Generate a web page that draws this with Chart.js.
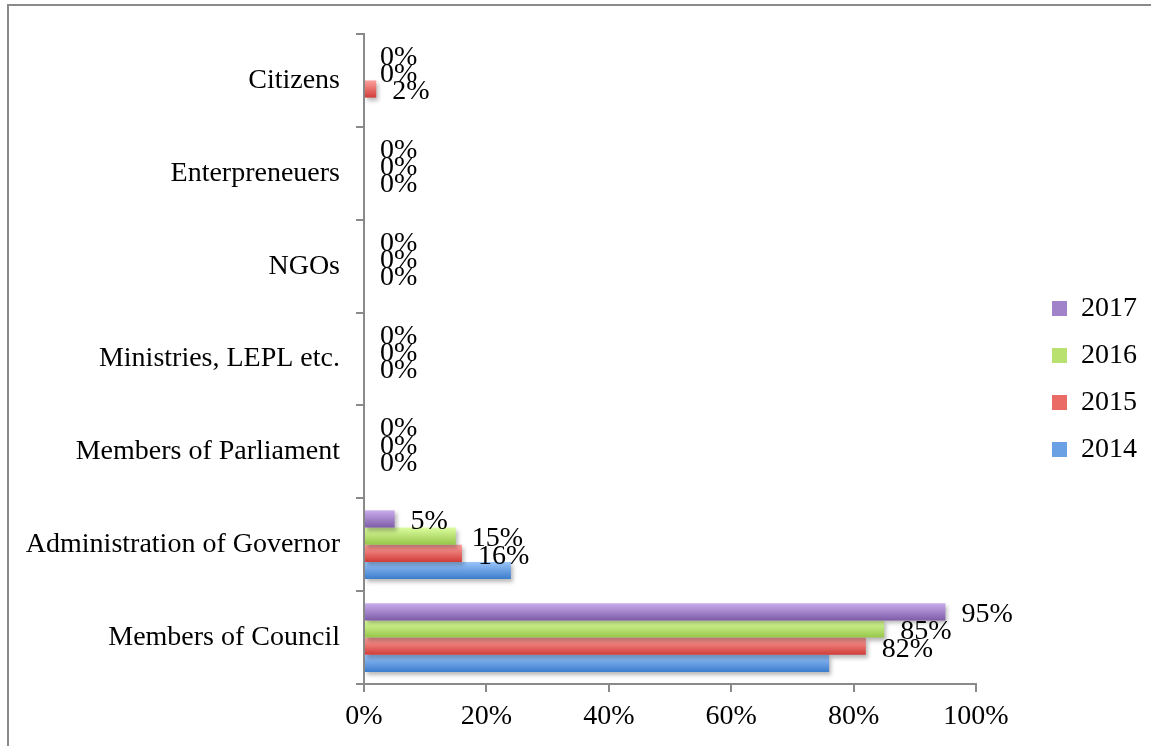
<!DOCTYPE html>
<html>
<head>
<meta charset="utf-8">
<script src="https://cdn.jsdelivr.net/npm/chart.js@4.4.1/dist/chart.umd.min.js"></script>
<style>
  html, body { margin: 0; padding: 0; background: #fff; overflow: hidden; }
  #wrap { position: relative; width: 1151px; height: 746px; }
  #frame { position: absolute; left: 7px; top: 4px; width: 1300px; height: 900px;
           border-left: 2px solid #8a8a8a; border-top: 2px solid #8a8a8a; pointer-events: none; }
  canvas { position: absolute; left: 0; top: 0; }
</style>
</head>
<body>
<div id="wrap">
  <div id="frame"></div>
  <canvas id="c" width="1151" height="746"></canvas>
</div>
<script>
// ---- data ----
const categories = ['Citizens', 'Enterpreneuers', 'NGOs', 'Ministries, LEPL etc.', 'Members of Parliament', 'Administration of Governor', 'Members of Council'];
const seriesNames = ['2017', '2016', '2015', '2014'];
const values2017 = [0, 0, 0, 0, 0, 5, 95];
const values2016 = [0, 0, 0, 0, 0, 15, 85];
const values2015 = [2, 0, 0, 0, 0, 16, 82];
const values2014 = [0, 0, 0, 0, 0, 24, 76];
const labelledSeries = ['2017', '2016', '2015'];
const xTickValues = [0, 20, 40, 60, 80, 100];

// ---- styles ----
const gradTop = { '2017': '#c9adec', '2016': '#dcfd9e', '2015': '#ffa29e', '2014': '#9ac5fa' };
const gradBot = { '2017': '#7e5ca8', '2016': '#96c64a', '2015': '#d03c38', '2014': '#3b7ccc' };
const mid = { '2017': '#a083c9', '2016': '#b8e170', '2015': '#ea6a66', '2014': '#6aa0e4' };
const seriesValues = [values2017, values2016, values2015, values2014];

const FONT = "'Liberation Serif', 'Times New Roman', serif";
const FS = 28;
Chart.defaults.font.family = FONT;
Chart.defaults.font.size = FS;
Chart.defaults.color = '#000';

const AXIS = '#8a8a8a';
const PLOT_RIGHT = 976;
const LEGEND_BOX_X = 1052;

const barStyle = {
  id: 'barStyle',
  beforeDatasetsDraw(chart) {
    const ctx = chart.ctx;
    chart.data.datasets.forEach((ds, di) => {
      const meta = chart.getDatasetMeta(di);
      meta.data.forEach(el => {
        const h = el.height;
        const g = ctx.createLinearGradient(0, el.y - h / 2, 0, el.y + h / 2);
        g.addColorStop(0, gradTop[ds.label]);
        g.addColorStop(1, gradBot[ds.label]);
        el.options = Object.assign({}, el.options, { backgroundColor: g });
      });
    });
    ctx.save();
    ctx.shadowColor = 'rgba(0,0,0,0.28)';
    ctx.shadowBlur = 4;
    ctx.shadowOffsetX = 2;
    ctx.shadowOffsetY = 3;
  },
  afterDatasetsDraw(chart) {
    const ctx = chart.ctx;
    ctx.restore();
    ctx.save();
    ctx.font = FS + "px " + FONT;
    ctx.fillStyle = '#000';
    ctx.textAlign = 'left';
    ctx.textBaseline = 'middle';
    chart.data.datasets.forEach((ds, di) => {
      if (!labelledSeries.includes(ds.label)) return;
      const meta = chart.getDatasetMeta(di);
      meta.data.forEach((el, i) => {
        ctx.fillText(ds.data[i] + '%', el.x + 16, el.y + 3);
      });
    });
    ctx.restore();
  },
  afterLayout(chart) {
    const L = chart.legend;
    if (!L) return;
    const pad = chart.options.plugins.legend.labels.padding;
    const dx = (LEGEND_BOX_X - pad) - L.left;
    L.left += dx; L.right += dx;
    L.top -= 11; L.bottom -= 11;
  }
};

const chart = new Chart(document.getElementById('c'), {
  type: 'bar',
  data: {
    labels: categories,
    datasets: seriesNames.map((name, i) => ({
      label: name,
      data: seriesValues[i],
      backgroundColor: mid[name],
      borderWidth: 0,
      barPercentage: 1,
      categoryPercentage: 0.74
    }))
  },
  options: {
    indexAxis: 'y',
    responsive: false,
    animation: false,
    devicePixelRatio: 1,
    layout: { padding: { left: 0, top: 34, right: 60, bottom: 0 } },
    plugins: {
      legend: {
        position: 'right',
        labels: { boxWidth: 15, boxHeight: 15, padding: 19, font: { size: FS, family: FONT }, color: '#000' }
      },
      tooltip: { enabled: false }
    },
    scales: {
      x: {
        min: 0, max: 100,
        afterBuildTicks(scale) { scale.ticks = xTickValues.map(v => ({ value: v })); },
        afterFit(scale) { scale.height = 62; },
        ticks: { callback: v => v + '%', padding: 8, color: '#000', font: { size: FS, family: FONT } },
        grid: { drawOnChartArea: false, tickLength: 8, color: AXIS, lineWidth: 2 },
        border: { color: AXIS, width: 2 }
      },
      y: {
        afterFit(scale) { scale.width = 364; },
        ticks: { padding: 16, color: '#000', font: { size: FS, family: FONT } },
        grid: { offset: true, drawOnChartArea: false, tickLength: 8, color: AXIS, lineWidth: 2 },
        border: { color: AXIS, width: 2 }
      }
    }
  },
  plugins: [barStyle]
});
// make the plot area end exactly where the reference's does
const extra = chart.chartArea.right - PLOT_RIGHT;
chart.options.layout.padding.right += extra;
chart.update();
</script>
</body>
</html>
